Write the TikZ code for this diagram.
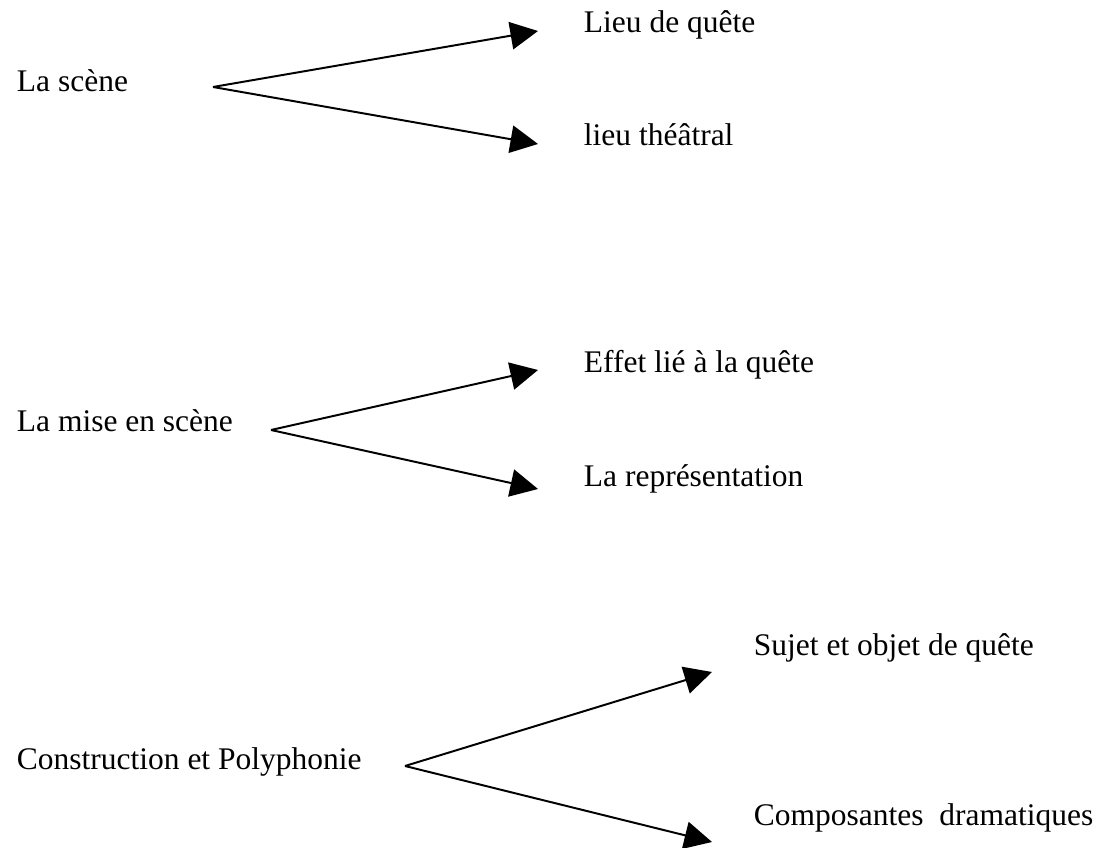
\documentclass[tikz,border=0pt]{standalone}
\usepackage{fontspec}
\setmainfont{Liberation Serif}
\usetikzlibrary{arrows.meta}

\tikzset{
    mot/.style={anchor=base west, inner sep=0pt, font=\fontsize{12pt}{14pt}\selectfont},
}

\begin{document}
\begin{tikzpicture}[x=0.0134cm, y=-0.0134cm, >={Triangle[length=10.5pt, width=10.5pt]}, line width=0.75pt]

    \useasboundingbox (0,0) rectangle (1112,848);

    % First: la scène
    \node[mot] (scene) at (16,92) {La scène};
    \node[mot] (quete) at (583,33) {Lieu de quête};
    \node[mot] (theatral) at (583,146) {lieu théâtral};
    \coordinate (scene-apex) at (213,87);
    \coordinate (quete-tip) at (538,31);
    \coordinate (theatral-tip) at (538,144);
    \foreach \t in {quete, theatral} {
        \draw[->] (scene-apex) -- (\t-tip);
    }

    % Second: la mise en scène
    \node[mot] (mise) at (16,432) {La mise en scène};
    \node[mot] (effet) at (583,373) {Effet lié à la quête};
    \node[mot] (repr) at (583,487) {La représentation};
    \coordinate (mise-apex) at (271,430);
    \coordinate (effet-tip) at (538,370);
    \coordinate (repr-tip) at (538,489);
    \foreach \t in {effet, repr} {
        \draw[->] (mise-apex) -- (\t-tip);
    }

    % Third: construction et polyphonie
    \node[mot] (constr) at (16,770) {Construction et Polyphonie};
    \node[mot] (sujet) at (753,656) {Sujet et objet de quête};
    \node[mot] (compo) at (753,825) {Composantes\ \ dramatiques};
    \coordinate (constr-apex) at (405,766);
    \coordinate (sujet-tip) at (712,672);
    \coordinate (compo-tip) at (712,842);
    \foreach \t in {sujet, compo} {
        \draw[->] (constr-apex) -- (\t-tip);
    }

\end{tikzpicture}
\end{document}
